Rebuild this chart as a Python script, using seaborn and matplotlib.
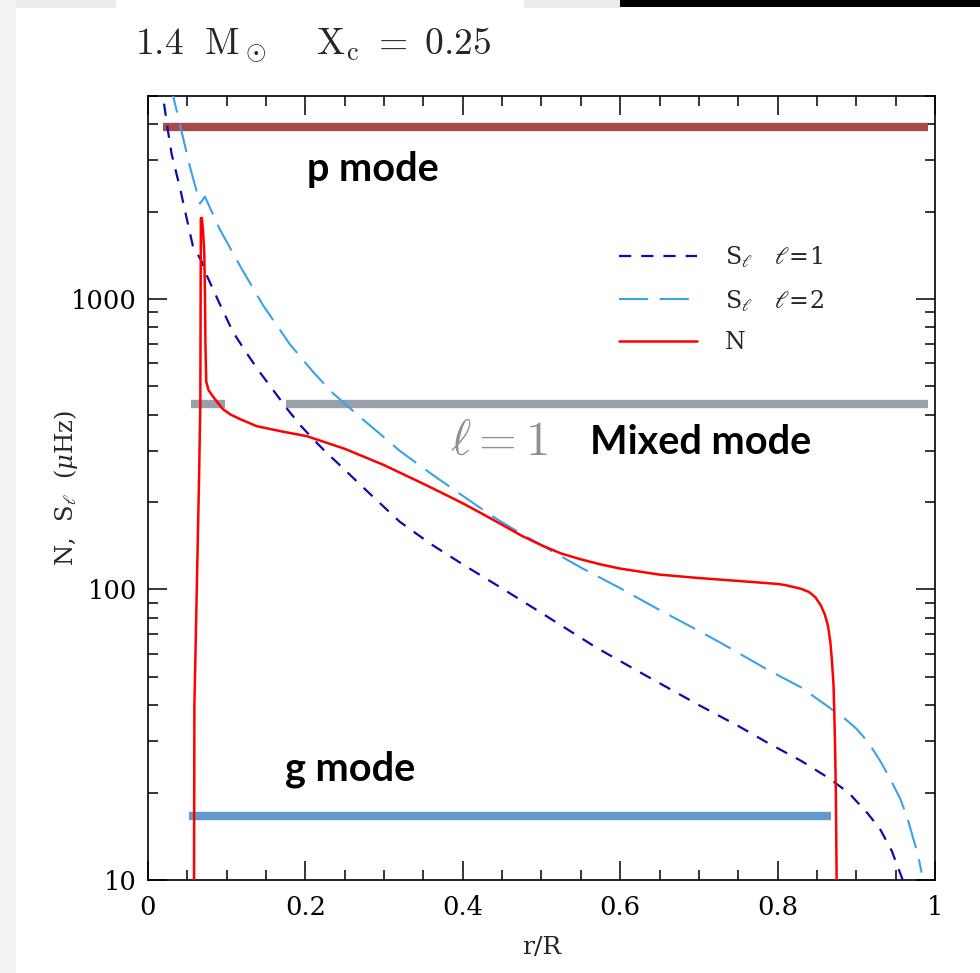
import numpy as np
import pandas as pd
import matplotlib
matplotlib.use("Agg")
import matplotlib.pyplot as plt
import seaborn as sns
from matplotlib.ticker import MultipleLocator, FuncFormatter, NullFormatter, LogLocator
from matplotlib.patches import Rectangle

# ---------------- data ----------------
S1_r = [0.017, 0.019, 0.025, 0.030, 0.041, 0.049, 0.057, 0.068, 0.072, 0.075, 0.090,
        0.108, 0.125, 0.142, 0.160, 0.177, 0.193, 0.210, 0.225, 0.240, 0.280, 0.320,
        0.360, 0.400, 0.447, 0.500, 0.570, 0.630, 0.700, 0.750, 0.787, 0.830, 0.863,
        0.890, 0.914, 0.930, 0.945, 0.959, 0.965]
S1_f = [5600, 5000, 3850, 3160, 2390, 1905, 1524, 1350, 1260, 1200, 977,
        770, 653, 560, 482, 418, 369, 329, 299, 274, 216, 171,
        143, 122, 102, 83, 63, 51, 40, 33.9, 29.7, 25.7, 22.6,
        20, 17, 15, 12.6, 10, 9.2]

S2_r = [0.030, 0.032, 0.053, 0.066, 0.0724, 0.091, 0.117, 0.146, 0.180, 0.210, 0.235,
        0.270, 0.300, 0.320, 0.360, 0.400, 0.440, 0.470, 0.500, 0.550, 0.600, 0.650,
        0.700, 0.730, 0.787, 0.830, 0.867, 0.885, 0.900, 0.915, 0.930, 0.943, 0.956,
        0.965, 0.972, 0.978, 0.983]
S2_f = [5500, 5000, 2875, 2130, 2250, 1742, 1300, 953, 700, 560, 474,
        391, 334, 300, 250, 210, 177, 158, 142, 119, 101, 85,
        72, 65, 53, 46, 39, 36, 33.2, 29.8, 25.8, 22.3, 19,
        16.3, 14, 12.3, 10.6]

N_r = [0.0585, 0.0590, 0.0620, 0.0650, 0.0665, 0.0672, 0.0685, 0.0700, 0.0715, 0.0725,
       0.0730, 0.0740, 0.0770, 0.0830, 0.0900, 0.0950, 0.1050, 0.1170, 0.1380, 0.1700,
       0.2020, 0.2500, 0.3000, 0.3500, 0.3750, 0.4000, 0.4250, 0.4500, 0.4750, 0.5000,
       0.5250, 0.5500, 0.5750, 0.6000, 0.6500, 0.7000, 0.7500, 0.7800, 0.8000, 0.8100,
       0.8200, 0.8300, 0.8400, 0.8480, 0.8550, 0.8600, 0.8640, 0.8670, 0.8690, 0.8710,
       0.8720, 0.8730, 0.8740, 0.8750]
N_f = [10, 40, 100, 250, 435, 1900, 1900, 1700, 1450, 1000,
       700, 520, 485, 460, 435, 418, 400, 386, 365, 350,
       337, 305, 268, 231, 214, 198, 182, 167, 153, 142,
       133, 127, 122, 118, 112.5, 109.5, 107, 105.5, 104.5, 103.5,
       102, 100.5, 98, 94, 88, 82, 75, 66, 57, 47,
       38, 29, 20, 10]

bar_y = [3900, 435, 435, 16.6]
bar_x0 = [0.019, 0.0546, 0.1753, 0.0525]
bar_x1 = [0.991, 0.0978, 0.991, 0.868]
bar_colors = ["#a64b45", "#9aa0a9", "#9aa0a9", "#6398cc"]

x_ticks = [0, 0.2, 0.4, 0.6, 0.8, 1.0]
y_ticks = [10, 100, 1000]

# ---------------- style ----------------
sns.set_theme(style="ticks")
plt.rcParams["font.family"] = ["DejaVu Serif", "DejaVu Sans"]
plt.rcParams["mathtext.fontset"] = "dejavuserif"
plt.rcParams["axes.linewidth"] = 1.2

fig = plt.figure(figsize=(9.8, 9.73), dpi=100)
fig.patch.set_facecolor("white")
ax = fig.add_axes([0.151, 0.0956, 0.8031, 0.8058])
ax.set_facecolor("white")

# screenshot edge artefacts
fig.add_artist(Rectangle((0, 1 - 8 / 973), 116 / 980, 8 / 973, transform=fig.transFigure,
                         color="#ececec", lw=0))
fig.add_artist(Rectangle((524 / 980, 1 - 8 / 973), 96 / 980, 8 / 973, transform=fig.transFigure,
                         color="#ececec", lw=0))
fig.add_artist(Rectangle((620 / 980, 1 - 7 / 973), 360 / 980, 7 / 973, transform=fig.transFigure,
                         color="black", lw=0))
fig.add_artist(Rectangle((0, 0), 16 / 980, 1, transform=fig.transFigure, color="#f3f3f3", lw=0))

# bars
ax.hlines(bar_y, bar_x0, bar_x1, colors=bar_colors, linewidth=6, zorder=2)

# curves
df1 = pd.DataFrame({"r": S1_r, "f": S1_f})
df2 = pd.DataFrame({"r": S2_r, "f": S2_f})
dfn = pd.DataFrame({"r": N_r, "f": N_f})
sns.lineplot(data=df1, x="r", y="f", ax=ax, color="#0c0cad", lw=1.6, sort=False, estimator=None,
             label=r"$\mathrm{S}_\ell\quad \ell\!=\!1$", zorder=3)
sns.lineplot(data=df2, x="r", y="f", ax=ax, color="#37a3ea", lw=1.5, sort=False, estimator=None,
             label=r"$\mathrm{S}_\ell\quad \ell\!=\!2$", zorder=3)
sns.lineplot(data=dfn, x="r", y="f", ax=ax, color="#ff0000", lw=1.8, sort=False, estimator=None,
             label="N", zorder=4)
lines = ax.get_lines()
lines[-3].set_dashes([5.5, 4.5])
lines[-2].set_dashes([14, 5.5])

ax.set_yscale("log")
ax.set_xlim(0, 1)
ax.set_ylim(10, 5000)

ax.set_xticks(x_ticks)
ax.xaxis.set_minor_locator(MultipleLocator(0.05))
ax.xaxis.set_major_formatter(FuncFormatter(lambda v, p: f"{v:g}"))
ax.set_yticks(y_ticks)
ax.yaxis.set_minor_locator(LogLocator(base=10, subs=np.arange(2, 10)))
ax.yaxis.set_major_formatter(FuncFormatter(lambda v, p: f"{v:g}"))
ax.yaxis.set_minor_formatter(NullFormatter())
ax.tick_params(which="both", direction="in", top=True, right=True, colors="black",
               labelsize=18.5)
ax.tick_params(which="major", length=13.5, width=1.1)
ax.tick_params(axis="x", which="major", pad=11)
ax.tick_params(axis="y", which="major", pad=8)
ax.tick_params(which="minor", length=7, width=1.1)
for s in ax.spines.values():
    s.set_color("black")

ax.set_xlabel("r/R", fontsize=18)
ax.set_ylabel(r"N,  S$_\ell$  ($\mu$Hz)", fontsize=17.5)
ax.xaxis.set_label_coords(0.5, -0.072)
ax.yaxis.set_label_coords(-0.086, 0.5)

# annotations
bold = dict(family=["Lato", "DejaVu Sans"], fontweight="bold", fontsize=28.5, color="black")
ax.text(0.202, 2780, "p mode", va="center", ha="left", **bold)
ax.text(0.562, 321, "Mixed mode", va="center", ha="left", **bold)
ax.text(0.174, 24.1, "g mode", va="center", ha="left", **bold)
ax.text(0.384, 325, r"$\ell = 1$", va="center", ha="left", fontsize=35, color="#8a9099",
        math_fontfamily="cm")

fig.text(0.138, 0.954, r"$1.4\ \ \mathrm{M}_\odot\quad\ \mathrm{X}_\mathrm{c}\ =\ 0.25$",
         fontsize=27, va="center", ha="left", math_fontfamily="cm")

leg = ax.legend(loc="upper left", bbox_to_anchor=(0.598, 0.811), frameon=False,
                fontsize=17, handlelength=3.3, handletextpad=1.2, labelspacing=0.75,
                borderpad=0, borderaxespad=0)

fig.savefig("out.png", dpi=100, facecolor="white")
